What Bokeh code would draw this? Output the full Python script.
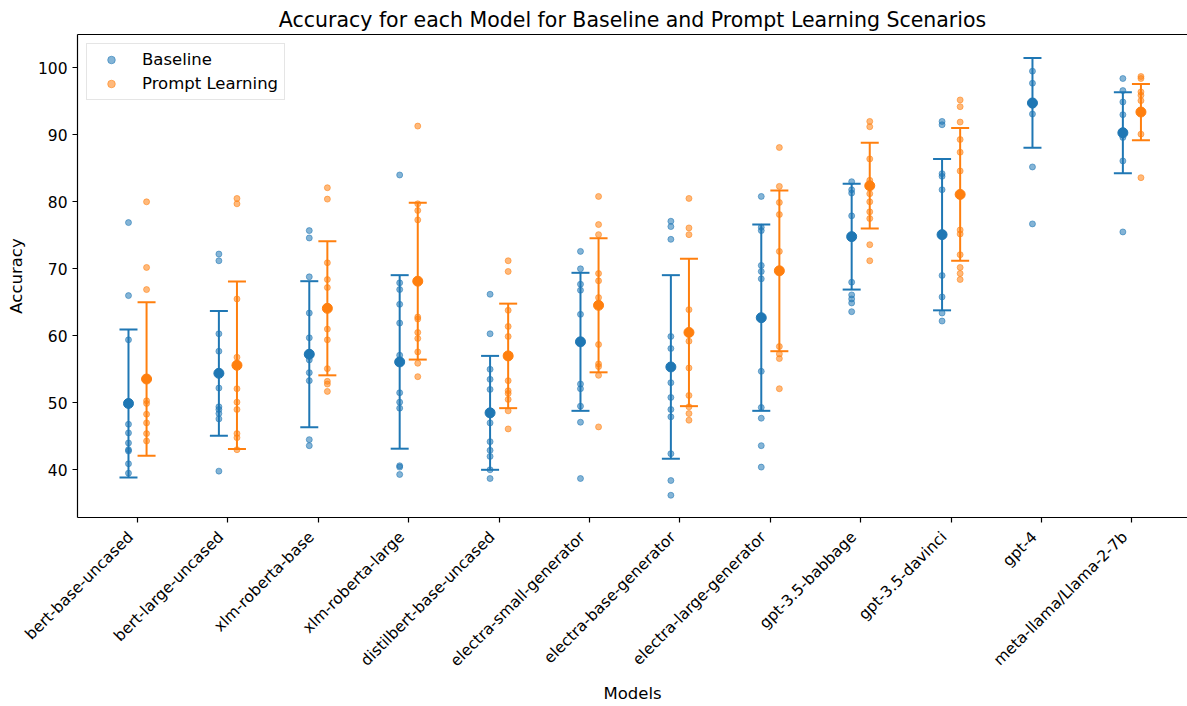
import math
from bokeh.plotting import figure
from bokeh.models import (ColumnDataSource, FixedTicker, LinearAxis, Whisker,
                          TeeHead, Range1d, Legend, LegendItem)
from bokeh.embed import file_html
from bokeh.resources import INLINE

# Model names (x categories)
models = [
    "bert-base-uncased", "bert-large-uncased", "xlm-roberta-base",
    "xlm-roberta-large", "distilbert-base-uncased", "electra-small-generator",
    "electra-base-generator", "electra-large-generator", "gpt-3.5-babbage",
    "gpt-3.5-davinci", "gpt-4", "meta-llama/Llama-2-7b",
]

# Per-run accuracies, baseline scenario
baseline_scores = [
    [76.9, 66.0, 59.4, 46.8, 45.5, 44.0, 43.0, 42.8, 40.9, 39.5],
    [72.2, 71.2, 60.3, 57.7, 52.2, 49.4, 49.0, 48.4, 47.6, 39.8],
    [75.7, 74.6, 68.8, 63.4, 59.7, 56.4, 54.5, 53.3, 44.5, 43.6],
    [84.0, 67.9, 66.9, 64.7, 61.9, 57.1, 51.5, 50.1, 49.2, 40.6, 40.4, 39.3],
    [66.2, 60.3, 55.0, 53.5, 52.0, 47.0, 44.2, 42.9, 42.0, 40.0, 38.7],
    [72.6, 70.0, 67.7, 66.8, 63.2, 52.8, 52.1, 49.5, 47.1, 38.7],
    [77.1, 76.3, 74.4, 59.9, 58.1, 53.0, 50.8, 49.0, 47.9, 42.4, 38.4, 36.2],
    [80.8, 76.2, 75.7, 70.5, 69.6, 68.5, 54.7, 49.3, 47.7, 43.6, 40.4],
    [83.0, 81.8, 81.3, 77.9, 68.0, 66.1, 65.5, 64.9, 63.6],
    [92.0, 91.5, 84.2, 83.8, 81.8, 69.0, 65.8, 63.4, 62.2],
    [99.5, 97.7, 95.0, 94.4, 93.1, 85.2, 76.7],
    [98.4, 96.6, 94.9, 93.0, 90.6, 89.6, 86.1, 75.5],
]

# Per-run accuracies, prompt learning scenario (no runs for gpt-4)
prompt_scores = [
    [80.0, 70.2, 66.9, 50.3, 49.9, 48.3, 47.0, 45.4, 44.3],
    [80.5, 79.7, 65.5, 56.8, 52.1, 50.1, 49.0, 45.4, 44.8, 43.0],
    [82.1, 80.4, 70.9, 68.4, 67.2, 61.0, 59.4, 55.1, 53.2, 52.8, 51.7],
    [91.3, 79.7, 78.7, 77.3, 62.8, 62.5, 60.5, 59.6, 57.6, 55.9, 53.9],
    [71.2, 69.6, 63.8, 61.4, 59.9, 53.3, 51.8, 51.4, 50.5, 48.8, 46.1],
    [80.8, 76.6, 75.1, 69.3, 68.2, 65.7, 58.7, 55.8, 55.4, 54.1, 46.4],
    [80.5, 76.1, 75.1, 63.9, 59.2, 55.2, 51.1, 49.4, 48.4, 47.4],
    [88.1, 82.3, 79.9, 78.1, 72.6, 58.4, 57.3, 56.6, 52.1],
    [92.0, 91.2, 86.4, 83.2, 81.2, 80.0, 78.5, 77.5, 73.6, 71.2],
    [95.2, 94.2, 91.9, 89.3, 87.4, 84.6, 75.8, 75.2, 72.1, 70.2, 69.3, 68.4],
    [],
    [98.7, 98.4, 96.4, 95.9, 95.1, 90.1, 83.6],
]

# Mean and standard deviation per model
baseline_mean = [49.9, 54.4, 57.25, 56.1, 48.5, 59.1, 55.35, 62.7, 74.8, 75.1, 94.75, 90.3]
baseline_std = [11.05, 9.3, 10.9, 12.95, 8.5, 10.3, 13.7, 13.9, 7.9, 11.3, 6.7, 6.05]
prompt_mean = [53.55, 55.6, 64.1, 68.15, 57.0, 64.55, 60.5, 69.7, 82.4, 81.1, None, 93.4]
prompt_std = [11.45, 12.5, 10.0, 11.7, 7.8, 10.0, 11.0, 12.0, 6.4, 9.9, None, 4.2]

BLUE = "#1f77b4"
ORANGE = "#ff7f0e"
FONT = "DejaVu Sans"
SHIFT = 0.1
PAD = "\u00a0\u00a0"  # keeps the rotated label's lower corner on its tick


def scatter_source(scores, shift):
    xs, ys = [], []
    for i, vals in enumerate(scores):
        for v in vals:
            xs.append(i + shift)
            ys.append(v)
    return ColumnDataSource(dict(x=xs, y=ys))


def summary_source(means, stds, shift):
    xs, m, lo, hi = [], [], [], []
    for i, (mu, sd) in enumerate(zip(means, stds)):
        if mu is None:
            continue
        xs.append(i + shift)
        m.append(mu)
        lo.append(mu - sd)
        hi.append(mu + sd)
    return ColumnDataSource(dict(x=xs, mean=m, lower=lo, upper=hi))


p = figure(
    width=1187, height=706,
    x_range=Range1d(-0.664, 11.615), y_range=Range1d(32.88, 104.97),
    output_backend="svg", toolbar_location=None,
    min_border_left=77, min_border_right=0, min_border_top=34, min_border_bottom=189,
    title="Accuracy for each Model for Baseline and Prompt Learning Scenarios",
)
p.outline_line_color = None
p.grid.visible = False
p.background_fill_color = "white"
p.border_fill_color = "white"

p.title.text_font = FONT
p.title.text_font_size = "20.5px"
p.title.text_font_style = "normal"
p.title.text_color = "black"
p.title.align = "center"
p.title.standoff = 6

# Axes
for ax in (p.xaxis, p.yaxis):
    ax.axis_line_color = "black"
    ax.axis_line_width = 1.2
    ax.major_tick_line_color = "black"
    ax.major_tick_line_width = 1.2
    ax.major_tick_out = 5
    ax.major_tick_in = 0
    ax.minor_tick_line_color = None
    ax.major_label_text_font = FONT
    ax.major_label_text_color = "black"
    ax.major_label_text_font_size = "15.5px"
    ax.major_label_standoff = 5
    ax.axis_label_text_font = FONT
    ax.axis_label_text_font_size = "16.5px"
    ax.axis_label_text_font_style = "normal"
    ax.axis_label_text_color = "black"

p.xaxis.ticker = FixedTicker(ticks=list(range(len(models))))
p.xaxis.major_label_overrides = {i: name + PAD for i, name in enumerate(models)}
p.xaxis.major_label_orientation = math.pi / 4
p.xaxis.axis_label = "Models"
p.xaxis.axis_label_standoff = 5

p.yaxis.ticker = FixedTicker(ticks=[40, 50, 60, 70, 80, 90, 100])
p.yaxis.axis_label = "Accuracy"
p.yaxis.axis_label_standoff = 9

top = LinearAxis(ticker=FixedTicker(ticks=[]), axis_line_color="black", axis_line_width=1.2,
                 major_tick_line_color=None, minor_tick_line_color=None)
p.add_layout(top, "above")

# Individual runs
base_src = scatter_source(baseline_scores, -SHIFT)
prompt_src = scatter_source(prompt_scores, SHIFT)
r_base = p.scatter("x", "y", source=base_src, size=6, fill_color=BLUE, line_color=BLUE,
                   fill_alpha=0.55, line_alpha=0.55)
r_prompt = p.scatter("x", "y", source=prompt_src, size=6, fill_color=ORANGE, line_color=ORANGE,
                     fill_alpha=0.55, line_alpha=0.55)

# Mean +/- std error bars
for means, stds, shift, color in ((baseline_mean, baseline_std, -SHIFT, BLUE),
                                  (prompt_mean, prompt_std, SHIFT, ORANGE)):
    src = summary_source(means, stds, shift)
    w = Whisker(base="x", lower="lower", upper="upper", source=src, dimension="height",
                line_color=color, line_width=2,
                lower_head=TeeHead(size=18, line_color=color, line_width=2),
                upper_head=TeeHead(size=18, line_color=color, line_width=2))
    p.add_layout(w)
    p.scatter("x", "mean", source=src, size=10, fill_color=color, line_color=color)

legend = Legend(items=[LegendItem(label="Baseline", renderers=[r_base]),
                       LegendItem(label="Prompt Learning", renderers=[r_prompt])],
                location="top_left", margin=9, padding=6, spacing=5,
                label_height=19, glyph_height=19, glyph_width=36, label_standoff=13,
                label_text_font=FONT, label_text_font_size="16.5px", label_text_color="black",
                border_line_color="#cccccc", border_line_width=1,
                background_fill_color="white", background_fill_alpha=0.8)
p.add_layout(legend)

open("out.html", "w").write(file_html(p, INLINE))
